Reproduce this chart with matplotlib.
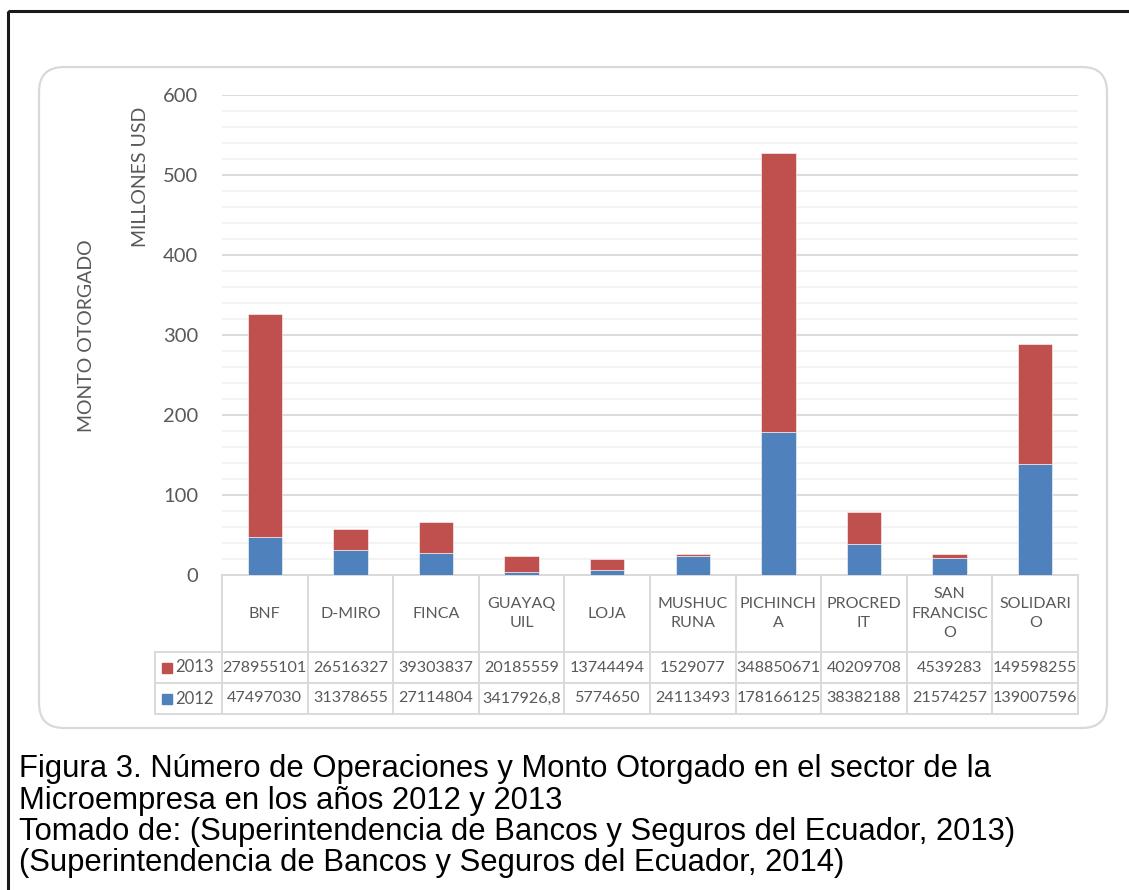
import matplotlib
matplotlib.use("Agg")
from matplotlib import pyplot as plt
from matplotlib.patches import FancyBboxPatch, Rectangle
from matplotlib.ticker import MultipleLocator

# data (USD)
categories = ["BNF", "D-MIRO", "FINCA", "GUAYAQ\nUIL", "LOJA", "MUSHUC\nRUNA",
              "PICHINCH\nA", "PROCRED\nIT", "SAN\nFRANCISC\nO", "SOLIDARI\nO"]
monto_2012 = [47497030, 31378655, 27114804, 3417926.8, 5774650, 24113493,
              178166125, 38382188, 21574257, 139007596]
monto_2013 = [278955101, 26516327, 39303837, 20185559, 13744494, 1529077,
              348850671, 40209708, 4539283, 149598255]
y_ticks = [0, 100, 200, 300, 400, 500, 600]

blue = "#4F81BD"
red = "#C0504D"
grey_txt = "#595959"
grid_major = "#D9D9D9"
grid_minor = "#F2F2F2"

W, H = 1129, 890
plt.rcParams['font.family'] = ['Lato', 'DejaVu Sans']


def px_axes(fig, x0, y0, x1, y1, **kw):
    return fig.add_axes([x0 / W, 1 - y1 / H, (x1 - x0) / W, (y1 - y0) / H], **kw)


def fmt(v):
    if float(v).is_integer():
        return str(int(v))
    return str(v).replace(".", ",")


fig = plt.figure(figsize=(W / 100, H / 100), dpi=100)

# background layer: page frame, rounded chart box, caption
bg = px_axes(fig, 0, 0, W, H)
bg.set_xlim(0, W)
bg.set_ylim(H, 0)
bg.axis("off")
bg.add_patch(Rectangle((8, 11), W + 20, H + 20, fill=False, ec="#1a1a1a", lw=2.2))
bg.add_patch(FancyBboxPatch((39 + 25, 67 + 25), 1107 - 39 - 50, 728 - 67 - 50,
                            boxstyle="round,pad=25", fc="white", ec=grid_major, lw=1.6))
caption = ["Figura 3. Número de Operaciones y Monto Otorgado en el sector de la",
           "Microempresa en los años 2012 y 2013",
           "Tomado de: (Superintendencia de Bancos y Seguros del Ecuador, 2013)",
           "(Superintendencia de Bancos y Seguros del Ecuador, 2014)"]
for i, line in enumerate(caption):
    bg.text(19, 769 + i * 31.5, line, fontsize=22.3, family="Liberation Sans",
            color="black", va="center", ha="left")

# bar chart
x0, x1, ytop, ybot = 222, 1078, 95, 575
ax = px_axes(fig, x0, ytop, x1, ybot)
xs = list(range(len(categories)))
v12 = [v / 1e6 for v in monto_2012]
v13 = [v / 1e6 for v in monto_2013]
ax.bar(xs, v12, width=0.4, color=blue, edgecolor="white", linewidth=0.4, zorder=3)
ax.bar(xs, v13, width=0.4, bottom=v12, color=red, edgecolor="white", linewidth=0.4, zorder=3)
ax.set_xlim(-0.5, len(categories) - 0.5)
ax.set_ylim(0, 600)
ax.set_yticks(y_ticks)
ax.yaxis.set_minor_locator(MultipleLocator(20))
ax.grid(axis="y", which="major", color=grid_major, lw=1.3, zorder=1)
ax.grid(axis="y", which="minor", color=grid_minor, lw=1.3, zorder=0)
ax.set_xticks([])
ax.tick_params(axis="y", which="both", length=0, labelsize=14.5, labelcolor=grey_txt, pad=17)
for s in ["top", "right", "left"]:
    ax.spines[s].set_visible(False)
ax.spines["bottom"].set_color(grid_major)
ax.spines["bottom"].set_linewidth(1.4)

fig.text(87 / W, 1 - 336 / H, "MONTO OTORGADO", rotation=90, fontsize=14,
         color=grey_txt, ha="center", va="center")
fig.text(141 / W, 1 - 177 / H, "MILLONES USD", rotation=90, fontsize=14,
         color=grey_txt, ha="center", va="center")

# data table under the bars
leg_x = 155
row_edges = [575, 652, 683, 714]
cw = (x1 - x0) / len(categories)
tab = px_axes(fig, leg_x, row_edges[0], x1, row_edges[-1])
tab.set_xlim(-0.5 - (x0 - leg_x) / cw, len(categories) - 0.5)
tab.set_ylim(row_edges[-1], row_edges[0])
tab.axis("off")
lc = dict(color=grid_major, lw=1.4, clip_on=False)
left_edge = -0.5 - (x0 - leg_x) / cw
for k in range(len(categories) + 1):
    tab.plot([k - 0.5, k - 0.5], [row_edges[0], row_edges[-1]], **lc)
tab.plot([left_edge, left_edge], [row_edges[1], row_edges[-1]], **lc)
for yv in row_edges[1:]:
    tab.plot([left_edge, len(categories) - 0.5], [yv, yv], **lc)

hdr_mid = (row_edges[0] + row_edges[1]) / 2
for k, name in enumerate(categories):
    tab.text(k, hdr_mid, name, ha="center", va="center", fontsize=11.5,
             color=grey_txt, linespacing=1.5)

rows = [("2013", red, monto_2013), ("2012", blue, monto_2012)]
for r, (lab, col, vals) in enumerate(rows):
    ym = (row_edges[r + 1] + row_edges[r + 2]) / 2
    tab.add_patch(Rectangle((left_edge + 7 / cw, ym - 5), 10 / cw, 10, color=col, clip_on=False))
    tab.text(left_edge + 20 / cw, ym, lab, ha="left", va="center", fontsize=12, color=grey_txt)
    for k, v in enumerate(vals):
        tab.text(k, ym, fmt(v), ha="center", va="center", fontsize=11.6, color=grey_txt)

fig.savefig("out.png", dpi=100)
